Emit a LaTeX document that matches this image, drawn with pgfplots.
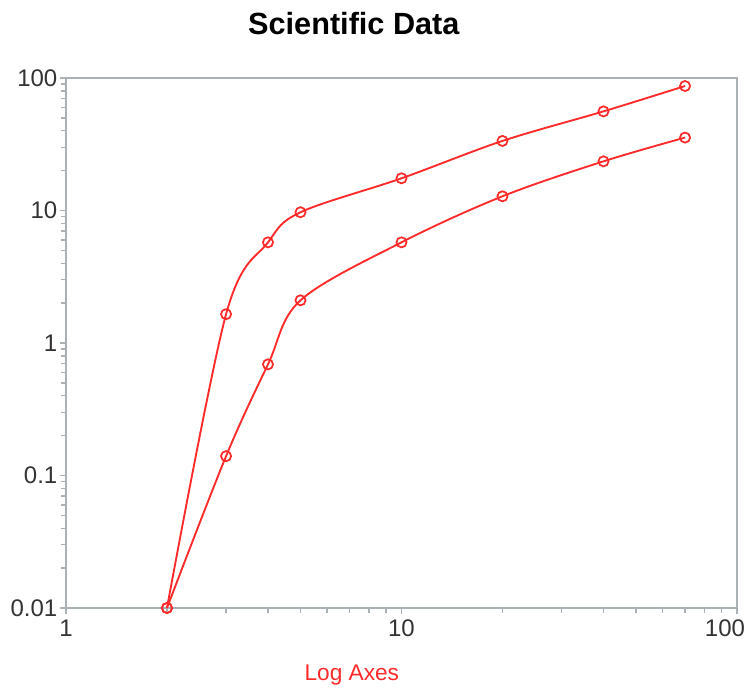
\documentclass[border=0pt]{standalone}
\usepackage{pgfplots}
\pgfplotsset{compat=1.18}
\usepackage{fontspec}
\setmainfont{Liberation Sans}
\definecolor{axgray}{HTML}{A9B1B5}
\definecolor{linered}{HTML}{FF2A2A}
\definecolor{ticktext}{HTML}{333333}

\pgfplotstableread{
x    y
2    0.01
3    1.65
4    5.75
5    9.7
10   17.5
20   33.5
40   56
70   87
}\upperdata

\pgfplotstableread{
x    y
2    0.01
3    0.14
4    0.69
5    2.1
10   5.75
20   12.8
40   23.5
70   35.5
}\lowerdata

\begin{document}
\begin{tikzpicture}
\begin{axis}[
  at={(0,0)}, anchor=south west,
  scale only axis,
  width=503.25pt, height=397.5pt,
  xmode=log, ymode=log,
  xmin=1, xmax=100, ymin=0.01, ymax=100,
  xtick={1,10,100},
  xticklabels={1,10,\makebox[0pt][r]{100\hspace*{-6pt}}},
  ytick={0.01,0.1,1,10,100},
  yticklabels={0.01,0.1,1,10,100},
  minor xtick={2,3,4,5,6,7,8,9,20,30,40,50,60,70,80,90},
  minor ytick={0.02,0.03,0.04,0.05,0.06,0.07,0.08,0.09,0.2,0.3,0.4,0.5,0.6,0.7,0.8,0.9,2,3,4,5,6,7,8,9,20,30,40,50,60,70,80,90},
  xtick pos=bottom, ytick pos=left,
  tick align=outside,
  major tick length=4.5pt, minor tick length=3.5pt,
  axis line style={axgray, line width=1.2pt},
  every tick/.style={axgray, line width=1pt},
  every minor tick/.style={axgray, line width=1pt},
  tick label style={font=\fontsize{18}{21}\selectfont, text=ticktext},
  yticklabel style={xshift=1.5pt},
  xticklabel style={yshift=-1pt},
  title={Scientific Data},
  title style={font=\bfseries\fontsize{23}{26}\selectfont, at={(axis description cs:0.429,1.087)}, anchor=center},
  xlabel={Log Axes},
  xlabel style={font=\fontsize{17}{20}\selectfont, text=linered, at={(axis description cs:0.426,-0.126)}, anchor=center},
  clip=false,
]
\addplot[linered, line width=1.4pt, smooth, tension=0.55, mark=o, mark size=3.8pt, mark options={line width=1.3pt}] table[x=x,y=y] {\upperdata};
\addplot[linered, line width=1.4pt, smooth, tension=0.55, mark=o, mark size=3.8pt, mark options={line width=1.3pt}] table[x=x,y=y] {\lowerdata};
\end{axis}
\pgfresetboundingbox
\path[use as bounding box] (-49.5pt,-60pt) rectangle (513pt,456pt);
\end{tikzpicture}
\end{document}
